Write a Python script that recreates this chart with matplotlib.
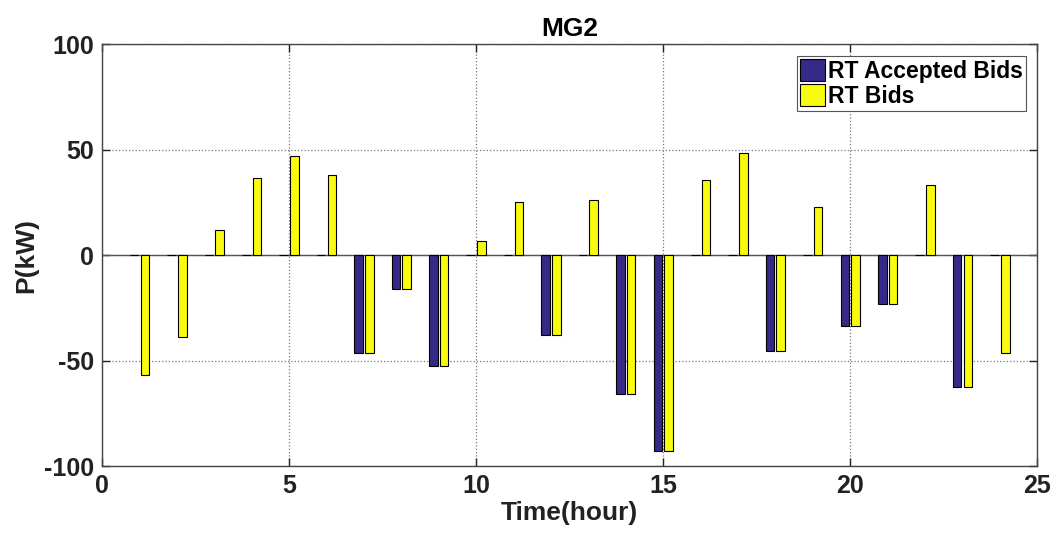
"""
MG2 real-time bids vs accepted bids, grouped bar chart (MATLAB look).
"""
import matplotlib
matplotlib.use("Agg")
import matplotlib.pyplot as plt
import numpy as np

hours = list(range(1, 25))
rt_accepted = [0, 0, 0, 0, 0, 0, -46.2, -16, -52.5, 0, 0, -37.9,
               0, -66, -93, 0, 0, -45.5, 0, -33.6, -23, 0, -62.7, 0]
rt_bids = [-57, -38.8, 11.7, 36.6, 47.2, 38.2, -46.2, -16, -52.5, 6.6, 25, -37.9,
           25.9, -66, -93, 35.8, 48.6, -45.5, 23, -33.6, -23, 33.1, -62.7, -46.2]

BLUE = "#352a87"
YELLOW = "#f9fb0e"

plt.rcParams["font.family"] = ["Liberation Sans", "DejaVu Sans"]
plt.rcParams["font.weight"] = "bold"
plt.rcParams["axes.unicode_minus"] = False

fig = plt.figure(figsize=(10.52, 5.39), dpi=100)
ax = fig.add_axes([0.097, 0.1354, 0.889, 0.7826])

x = np.array(hours, dtype=float)
w = 0.23
off = 0.143
ax.bar(x - off, rt_accepted, width=w, color=BLUE, edgecolor="black",
       linewidth=0.8, label="RT Accepted Bids", zorder=3)
ax.bar(x + off, rt_bids, width=w, color=YELLOW, edgecolor="black",
       linewidth=0.8, label="RT Bids", zorder=3)
ax.axhline(0, color="#555555", lw=1.0, zorder=2)

ax.set_xlim(0, 25)
ax.set_ylim(-100, 100)
ax.set_xticks([0, 5, 10, 15, 20, 25])
ax.set_yticks([-100, -50, 0, 50, 100])
ax.tick_params(direction="in", top=True, right=True, labelsize=18,
               length=6, width=1, colors="#222222", pad=6)
for lab in ax.get_xticklabels() + ax.get_yticklabels():
    lab.set_fontweight("bold")
ax.grid(True, linestyle=":", color="#777777", linewidth=0.9, zorder=0)
for s in ax.spines.values():
    s.set_color("#444444")
    s.set_linewidth(1.0)

ax.set_title("MG2", fontsize=19, fontweight="bold", pad=6)
ax.set_xlabel("Time(hour)", fontsize=19, fontweight="bold", labelpad=2,
              color="#222222")
ax.set_ylabel("P(kW)", fontsize=19, fontweight="bold", labelpad=4,
              color="#222222")

leg = ax.legend(loc="upper right", prop={"weight": "bold", "size": 16.5},
                frameon=True, fancybox=False, framealpha=1,
                handlelength=1.1, handleheight=1.1, handletextpad=0.1,
                borderpad=0.15, labelspacing=0.05, borderaxespad=0.5)
leg.get_frame().set_edgecolor("#555555")
leg.get_frame().set_linewidth(0.8)

fig.savefig("out.png", dpi=100)
plt.close(fig)
